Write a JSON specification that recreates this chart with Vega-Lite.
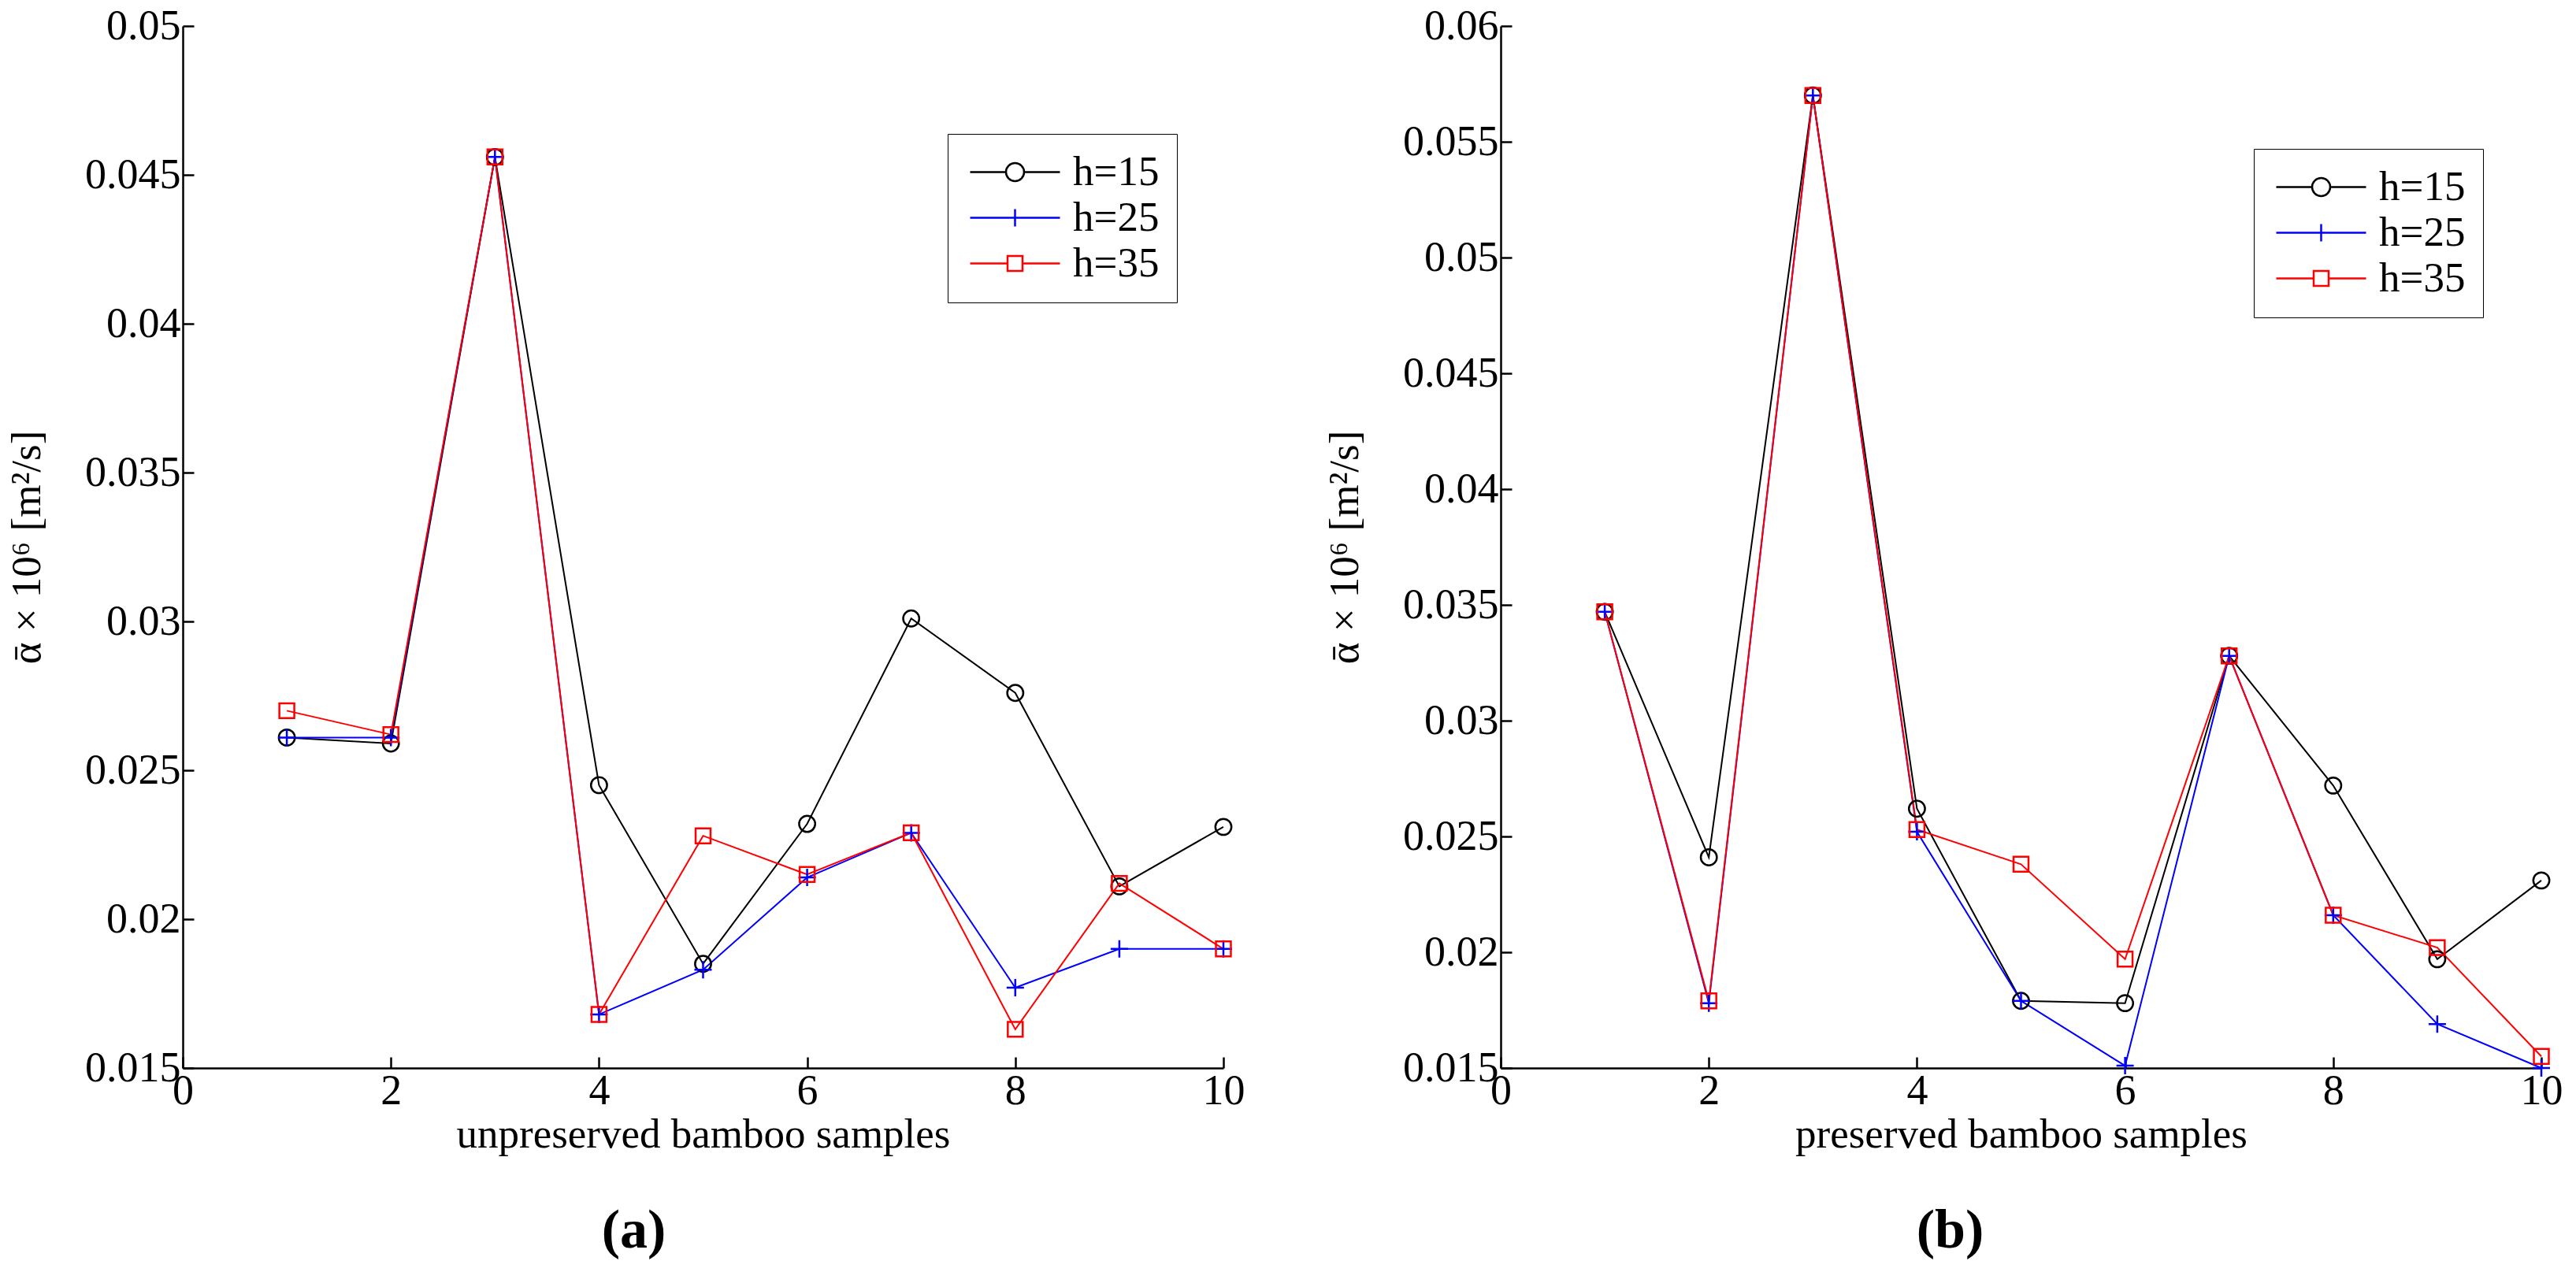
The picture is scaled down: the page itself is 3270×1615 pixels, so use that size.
{
  "$schema": "https://vega.github.io/schema/vega-lite/v6.json",
  "background": "white",
  "padding": {"left": 8, "top": 6, "right": 5, "bottom": 5},
  "datasets": {
    "unpreserved": [
      {"sample": 1, "h": "h=15", "value": 0.0261}, {"sample": 2, "h": "h=15", "value": 0.0259},
      {"sample": 3, "h": "h=15", "value": 0.0456}, {"sample": 4, "h": "h=15", "value": 0.0245},
      {"sample": 5, "h": "h=15", "value": 0.0185}, {"sample": 6, "h": "h=15", "value": 0.0232},
      {"sample": 7, "h": "h=15", "value": 0.0301}, {"sample": 8, "h": "h=15", "value": 0.0276},
      {"sample": 9, "h": "h=15", "value": 0.0211}, {"sample": 10, "h": "h=15", "value": 0.0231},
      {"sample": 1, "h": "h=25", "value": 0.0261}, {"sample": 2, "h": "h=25", "value": 0.0261},
      {"sample": 3, "h": "h=25", "value": 0.0456}, {"sample": 4, "h": "h=25", "value": 0.0168},
      {"sample": 5, "h": "h=25", "value": 0.0183}, {"sample": 6, "h": "h=25", "value": 0.0214},
      {"sample": 7, "h": "h=25", "value": 0.0229}, {"sample": 8, "h": "h=25", "value": 0.0177},
      {"sample": 9, "h": "h=25", "value": 0.0190}, {"sample": 10, "h": "h=25", "value": 0.0190},
      {"sample": 1, "h": "h=35", "value": 0.0270}, {"sample": 2, "h": "h=35", "value": 0.0262},
      {"sample": 3, "h": "h=35", "value": 0.0456}, {"sample": 4, "h": "h=35", "value": 0.0168},
      {"sample": 5, "h": "h=35", "value": 0.0228}, {"sample": 6, "h": "h=35", "value": 0.0215},
      {"sample": 7, "h": "h=35", "value": 0.0229}, {"sample": 8, "h": "h=35", "value": 0.0163},
      {"sample": 9, "h": "h=35", "value": 0.0212}, {"sample": 10, "h": "h=35", "value": 0.0190}
    ],
    "preserved": [
      {"sample": 1, "h": "h=15", "value": 0.0347}, {"sample": 2, "h": "h=15", "value": 0.0241},
      {"sample": 3, "h": "h=15", "value": 0.0570}, {"sample": 4, "h": "h=15", "value": 0.0262},
      {"sample": 5, "h": "h=15", "value": 0.0179}, {"sample": 6, "h": "h=15", "value": 0.0178},
      {"sample": 7, "h": "h=15", "value": 0.0328}, {"sample": 8, "h": "h=15", "value": 0.0272},
      {"sample": 9, "h": "h=15", "value": 0.0197}, {"sample": 10, "h": "h=15", "value": 0.0231},
      {"sample": 1, "h": "h=25", "value": 0.0347}, {"sample": 2, "h": "h=25", "value": 0.0178},
      {"sample": 3, "h": "h=25", "value": 0.0570}, {"sample": 4, "h": "h=25", "value": 0.0252},
      {"sample": 5, "h": "h=25", "value": 0.0179}, {"sample": 6, "h": "h=25", "value": 0.0151},
      {"sample": 7, "h": "h=25", "value": 0.0328}, {"sample": 8, "h": "h=25", "value": 0.0216},
      {"sample": 9, "h": "h=25", "value": 0.0169}, {"sample": 10, "h": "h=25", "value": 0.0150},
      {"sample": 1, "h": "h=35", "value": 0.0347}, {"sample": 2, "h": "h=35", "value": 0.0179},
      {"sample": 3, "h": "h=35", "value": 0.0570}, {"sample": 4, "h": "h=35", "value": 0.0253},
      {"sample": 5, "h": "h=35", "value": 0.0238}, {"sample": 6, "h": "h=35", "value": 0.0197},
      {"sample": 7, "h": "h=35", "value": 0.0328}, {"sample": 8, "h": "h=35", "value": 0.0216},
      {"sample": 9, "h": "h=35", "value": 0.0202}, {"sample": 10, "h": "h=35", "value": 0.0155}
    ]
  },
  "spacing": 101,
  "hconcat": [
    {
      "width": 1321,
      "height": 1323,
      "data": {"name": "unpreserved"},
      "title": {"text": "(a)", "orient": "bottom", "dx": -88, "offset": 62},
      "encoding": {
        "x": {
          "field": "sample", "type": "quantitative",
          "scale": {"domain": [0, 10], "nice": false},
          "axis": {"values": [0, 2, 4, 6, 8, 10], "title": "unpreserved bamboo samples"}
        },
        "y": {
          "field": "value", "type": "quantitative",
          "scale": {"domain": [0.015, 0.05], "nice": false, "zero": false},
          "axis": {"values": [0.015, 0.02, 0.025, 0.03, 0.035, 0.04, 0.045, 0.05], "format": ".3~f", "title": "ᾱ × 10⁶ [m²/s]"}
        },
        "color": {
          "field": "h", "type": "nominal",
          "scale": {"domain": ["h=15", "h=25", "h=35"], "range": ["#000000", "#0000ff", "#ff0000"]},
          "legend": {"orient": "none", "legendX": 971, "legendY": 137}
        }
      },
      "layer": [
        {"mark": {"type": "line", "strokeWidth": 2}},
        {"transform": [{"filter": "datum.h === 'h=15'"}], "mark": {"type": "point", "shape": "circle", "filled": false, "strokeWidth": 2.5, "opacity": 1, "size": 415}},
        {"transform": [{"filter": "datum.h === 'h=25'"}], "mark": {"type": "point", "shape": "M-1.08,0H1.08M0,-1.08V1.08", "filled": false, "strokeWidth": 2.5, "opacity": 1, "size": 415}},
        {"transform": [{"filter": "datum.h === 'h=35'"}], "mark": {"type": "point", "shape": "M-0.93,-0.93H0.93V0.93H-0.93Z", "filled": false, "strokeWidth": 2.5, "opacity": 1, "size": 415}},
        {
          "mark": {"type": "point", "filled": false, "strokeWidth": 2.5, "opacity": 1, "size": 0},
          "encoding": {
            "shape": {
              "field": "h", "type": "nominal",
              "scale": {"domain": ["h=15", "h=25", "h=35"], "range": [
                "M-1,0H1.275M2.425,0H4.7M1.275,0A0.575,0.575,0,1,0,2.425,0A0.575,0.575,0,1,0,1.275,0",
                "M-1,0H4.7M1.85,-0.55V0.55",
                "M-1,0H1.375M2.325,0H4.7M1.375,-0.475H2.325V0.475H1.375Z"
              ]},
              "legend": {"orient": "none", "legendX": 971, "legendY": 137}
            }
          }
        }
      ]
    },
    {
      "width": 1321,
      "height": 1323,
      "data": {"name": "preserved"},
      "title": {"text": "(b)", "orient": "bottom", "dx": -90, "offset": 62},
      "encoding": {
        "x": {
          "field": "sample", "type": "quantitative",
          "scale": {"domain": [0, 10], "nice": false},
          "axis": {"values": [0, 2, 4, 6, 8, 10], "title": "preserved bamboo samples"}
        },
        "y": {
          "field": "value", "type": "quantitative",
          "scale": {"domain": [0.015, 0.06], "nice": false, "zero": false},
          "axis": {"values": [0.015, 0.02, 0.025, 0.03, 0.035, 0.04, 0.045, 0.05, 0.055, 0.06], "format": ".3~f", "title": "ᾱ × 10⁶ [m²/s]"}
        },
        "color": {
          "field": "h", "type": "nominal",
          "scale": {"domain": ["h=15", "h=25", "h=35"], "range": ["#000000", "#0000ff", "#ff0000"]},
          "legend": {"orient": "none", "legendX": 956, "legendY": 156}
        }
      },
      "layer": [
        {"mark": {"type": "line", "strokeWidth": 2}},
        {"transform": [{"filter": "datum.h === 'h=15'"}], "mark": {"type": "point", "shape": "circle", "filled": false, "strokeWidth": 2.5, "opacity": 1, "size": 415}},
        {"transform": [{"filter": "datum.h === 'h=25'"}], "mark": {"type": "point", "shape": "M-1.08,0H1.08M0,-1.08V1.08", "filled": false, "strokeWidth": 2.5, "opacity": 1, "size": 415}},
        {"transform": [{"filter": "datum.h === 'h=35'"}], "mark": {"type": "point", "shape": "M-0.93,-0.93H0.93V0.93H-0.93Z", "filled": false, "strokeWidth": 2.5, "opacity": 1, "size": 415}},
        {
          "mark": {"type": "point", "filled": false, "strokeWidth": 2.5, "opacity": 1, "size": 0},
          "encoding": {
            "shape": {
              "field": "h", "type": "nominal",
              "scale": {"domain": ["h=15", "h=25", "h=35"], "range": [
                "M-1,0H1.275M2.425,0H4.7M1.275,0A0.575,0.575,0,1,0,2.425,0A0.575,0.575,0,1,0,1.275,0",
                "M-1,0H4.7M1.85,-0.55V0.55",
                "M-1,0H1.375M2.325,0H4.7M1.375,-0.475H2.325V0.475H1.375Z"
              ]},
              "legend": {"orient": "none", "legendX": 956, "legendY": 156}
            }
          }
        }
      ]
    }
  ],
  "resolve": {
    "scale": {"color": "independent", "shape": "independent"},
    "legend": {"color": "independent", "shape": "independent"}
  },
  "config": {
    "font": "Liberation Serif",
    "view": {"stroke": null},
    "axis": {
      "grid": false,
      "domainColor": "black",
      "domainWidth": 2.5,
      "tickColor": "black",
      "tickWidth": 2.5,
      "tickSize": -14,
      "labelFont": "Liberation Serif",
      "labelFontSize": 54,
      "labelColor": "black",
      "labelFlush": false,
      "labelOverlap": false,
      "titleFont": "Liberation Serif",
      "titleFontSize": 53,
      "titleFontWeight": "normal",
      "titleColor": "black"
    },
    "axisX": {"titlePadding": 2, "labelPadding": 16},
    "axisY": {"titlePadding": 46, "labelPadding": 17},
    "title": {"font": "Liberation Serif", "fontSize": 70, "fontWeight": "bold", "color": "black", "anchor": "middle"},
    "legend": {
      "title": null,
      "symbolSize": 1600,
      "symbolStrokeWidth": 2.5,
      "symbolFillColor": "transparent",
      "labelOffset": 84,
      "padding": 22,
      "rowPadding": 4,
      "strokeColor": "black",
      "fillColor": "white",
      "labelFont": "Liberation Serif",
      "labelFontSize": 53,
      "labelColor": "black",
      "labelLimit": 0
    }
  }
}
